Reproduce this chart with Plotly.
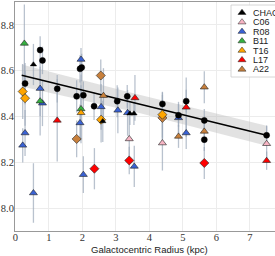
import plotly.graph_objects as go

# ---------------- data ----------------
chaos_x = [0.29, 0.54, 0.74, 0.81, 1.25, 1.83, 1.93, 1.98, 2.03, 2.35, 2.61, 3.04, 3.34, 3.42, 3.54, 4.39, 4.87, 5.10, 5.64, 5.64, 7.50]
chaos_y = [8.544, 8.627, 8.690, 8.645, 8.521, 8.488, 8.608, 8.614, 8.493, 8.445, 8.379, 8.467, 8.488, 8.413, 8.413, 8.455, 8.405, 8.467, 8.383, 8.299, 8.318]
chaos_e = [0.09, 0.09, 0.06, 0.06, 0.06, 0.07, 0.06, 0.06, 0.06, 0.06, 0.09, 0.07, 0.05, 0.05, 0.05, 0.05, 0.05, 0.05, 0.05, 0.05, 0.04]
chaos_tri = [False, True, False, False, False, False, False, False, False, False, True, False, False, True, True, False, False, False, False, False, False]

c06_x = [3.40, 4.39, 7.50]
c06_y = [8.302, 8.284, 8.281]
c06_e = [0.10, 0.12, 0.08]
c06_dia = [False, False, False]

r08_x = [0.22, 0.29, 0.54, 0.74, 0.81, 1.93, 1.96, 2.03, 2.56, 3.06, 3.35, 3.55, 4.87, 5.10]
r08_y = [8.274, 8.328, 8.066, 8.522, 8.458, 8.372, 8.649, 8.146, 8.442, 8.427, 8.416, 8.182, 8.394, 8.328]
r08_e = [0.075, 0.10, 0.13, 0.12, 0.10, 0.08, 0.05, 0.08, 0.10, 0.10, 0.10, 0.09, 0.07, 0.07]
r08_dia = [False] * 14

b11_x = [0.27, 0.74, 1.96]
b11_y = [8.719, 8.467, 8.433]
b11_e = [0.17, 0.15, 0.15]
b11_dia = [False, False, False]

t16_x = [0.22, 0.29, 1.96, 2.56, 4.39]
t16_y = [8.509, 8.480, 8.416, 8.386, 8.408]
t16_e = [0.12, 0.12, 0.12, 0.10, 0.10]
t16_dia = [True, True, False, True, True]

l17_x = [1.25, 3.57, 5.10, 7.50, 2.36, 3.40, 5.64]
l17_y = [8.383, 8.481, 8.440, 8.207, 8.172, 8.208, 8.197]
l17_e = [0.18, 0.10, 0.13, 0.04, 0.09, 0.06, 0.07]
l17_dia = [False, False, False, False, True, True, True]

a22_x = [2.55, 1.83, 4.39, 2.63, 4.87, 5.64, 5.64]
a22_y = [8.579, 8.302, 8.394, 8.491, 8.313, 8.528, 8.335]
a22_e = [0.07, 0.08, 0.10, 0.12, 0.05, 0.07, 0.05]
a22_dia = [True, True, True, False, False, False, False]

fit_x = [0.19, 3.70, 7.50]
fit_y = [8.580, 8.455, 8.318]
band_lo = [8.531, 8.415, 8.272]
band_hi = [8.627, 8.495, 8.360]

x_ticks = [0, 1, 2, 3, 4, 5, 6, 7]
y_ticks = [8.0, 8.2, 8.4, 8.6, 8.8]
legend_labels = ["CHAOS", "C06", "R08", "B11", "T16", "L17", "A22"]

# ---------------- style ----------------
colors = {"CHAOS": "#000000", "C06": "#f7b5c4", "R08": "#3a62d4", "B11": "#35b040",
          "T16": "#ffa500", "L17": "#ff0000", "A22": "#c8803c"}
err_color = "rgba(155,168,185,0.7)"
edge = dict(color="#222222", width=0.6)

series = [
    ("A22", a22_x, a22_y, a22_e, a22_dia),
    ("C06", c06_x, c06_y, c06_e, c06_dia),
    ("R08", r08_x, r08_y, r08_e, r08_dia),
    ("B11", b11_x, b11_y, b11_e, b11_dia),
    ("T16", t16_x, t16_y, t16_e, t16_dia),
    ("L17", l17_x, l17_y, l17_e, l17_dia),
]

fig = go.Figure()

# regression band and line
fig.add_trace(go.Scatter(x=fit_x, y=band_lo, mode="lines", line=dict(width=0), showlegend=False, hoverinfo="skip"))
fig.add_trace(go.Scatter(x=fit_x, y=band_hi, mode="lines", line=dict(width=0), fill="tonexty",
                         fillcolor="rgba(190,190,190,0.45)", showlegend=False, hoverinfo="skip"))

# error bars (under all markers)
for name, xs, ys, es, _ in series + [("CHAOS", chaos_x, chaos_y, chaos_e, None)]:
    fig.add_trace(go.Scatter(x=xs, y=ys, mode="markers", marker=dict(size=1, opacity=0),
                             error_y=dict(type="data", array=es, visible=True, color=err_color,
                                          thickness=1.3, width=0),
                             showlegend=False, hoverinfo="skip"))

fig.add_trace(go.Scatter(x=fit_x, y=fit_y, mode="lines", line=dict(color="black", width=1.5),
                         showlegend=False, hoverinfo="skip"))

for name, xs, ys, es, dia in series:
    fig.add_trace(go.Scatter(
        x=xs, y=ys, mode="markers", showlegend=False, hoverinfo="skip",
        marker=dict(color=colors[name], opacity=1,
                    symbol=["diamond" if d else "triangle-up" for d in dia],
                    size=7, line=edge)))

fig.add_trace(go.Scatter(
    x=chaos_x, y=chaos_y, mode="markers", showlegend=False, hoverinfo="skip",
    marker=dict(color="black", opacity=1, symbol=["triangle-up" if t else "circle" for t in chaos_tri],
                size=[5.5 if t else 6 for t in chaos_tri], line=dict(color="black", width=0.5))))

# ---------------- manual legend (drawn on an overlay axis in paper units) ----------------
L, R, T, B = 15, 275, 2, 231
def px(xp): return (xp - L) / (R - L)
def py(yp): return (B - yp) / (B - T)

bx0, bx1, by0, by1 = px(231), px(290), py(77), py(5)
fig.add_trace(go.Scatter(
    x=[bx0, bx1, bx1, bx0, bx0], y=[by0, by0, by1, by1, by0], xaxis="x2", yaxis="y2",
    mode="lines", fill="toself", fillcolor="rgba(255,255,255,0.92)",
    line=dict(color="#cccccc", width=0.8), showlegend=False, hoverinfo="skip"))
row_y = [12.7 + 9.45 * i for i in range(len(legend_labels))]
fig.add_trace(go.Scatter(
    x=[px(242)] * len(legend_labels), y=[py(r) for r in row_y], xaxis="x2", yaxis="y2",
    mode="markers", showlegend=False, hoverinfo="skip",
    marker=dict(symbol="triangle-up", size=7, color=[colors[n] for n in legend_labels],
                line=dict(color="#222222", width=0.5))))
for lab, r in zip(legend_labels, row_y):
    fig.add_annotation(x=px(250.5), y=py(r), xref="paper", yref="paper", text=lab, showarrow=False,
                       xanchor="left", yanchor="middle",
                       font=dict(family="Liberation Sans", size=9, color="#222222"))

fig.add_annotation(x=px(149), y=py(249.5), xref="paper", yref="paper", text="Galactocentric Radius (kpc)",
                   showarrow=False, xanchor="center", yanchor="middle",
                   font=dict(family="Liberation Sans", size=9.5, color="#222222"))

fig.update_layout(
    width=275, height=256,
    margin=dict(l=L, r=275 - R, t=T, b=256 - B),
    paper_bgcolor="white", plot_bgcolor="white",
    showlegend=False, hovermode=False,
    xaxis=dict(range=[-0.01, 7.75], tickvals=x_ticks, ticktext=[str(v) for v in x_ticks],
               showgrid=True, gridcolor="#ececec", gridwidth=1, zeroline=False,
               showline=True, linecolor="#999999", linewidth=1, mirror=True, ticks="",
               ticklabelstandoff=-4,
               tickfont=dict(family="Liberation Serif", size=10.5, color="#333333"), automargin=False),
    yaxis=dict(range=[7.9, 8.9], tickvals=y_ticks, ticktext=["%.1f" % v for v in y_ticks],
               showgrid=True, gridcolor="#ececec", gridwidth=1, zeroline=False,
               showline=True, linecolor="#999999", linewidth=1, mirror=False, ticks="",
               ticklabelstandoff=-2,
               tickfont=dict(family="Liberation Serif", size=10.5, color="#333333"), automargin=False),
    xaxis2=dict(range=[0, 1], overlaying="x", visible=False),
    yaxis2=dict(range=[0, 1], overlaying="y", visible=False),
)

fig.write_html("out.html", config={"displayModeBar": False, "staticPlot": True},
               post_script="document.body.style.margin='0';document.body.style.overflow='hidden';")
